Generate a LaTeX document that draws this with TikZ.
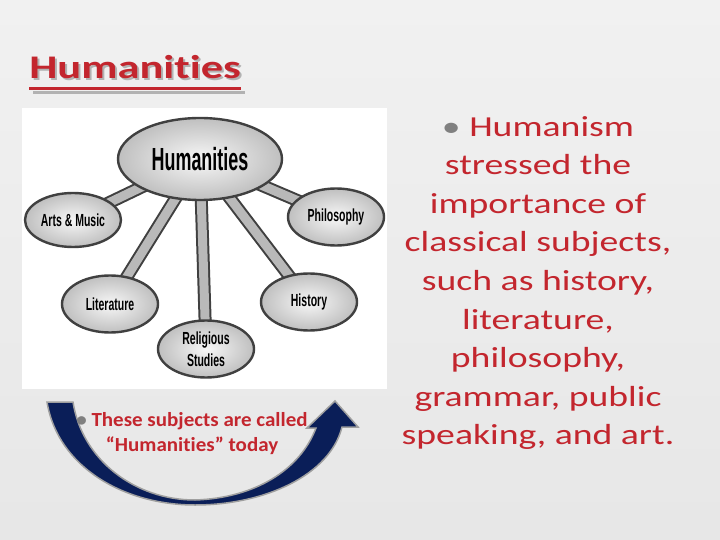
\documentclass[tikz,border=0pt]{standalone}
\usepackage{fontspec}
\setmainfont{Carlito}[Ligatures={NoCommon}]
\newfontfamily\diagfont{Liberation Sans}
\usetikzlibrary{shapes.geometric,backgrounds}
\definecolor{slidered}{RGB}{195,38,46}
\definecolor{arrownavy}{RGB}{10,30,88}
\newcommand{\narrowtext}[1]{\scalebox{0.6}[1]{#1}}
\begin{document}
\begin{tikzpicture}
	[	x=1pt,y=-1pt,
	topic/.style={ellipse,draw=black!75,line width=2.4pt,inner sep=0pt,
		inner color=gray!6,outer color=gray!50,minimum width=96pt,minimum height=57pt,
		font=\diagfont\bfseries\fontsize{17.5}{22}\selectfont,align=center},
	stem/.style={draw=black!75,line width=2pt,double=gray!55,double distance=9pt},
	redtext/.style={text=slidered,inner sep=0pt,align=center}
	]
	\useasboundingbox (0,0) rectangle (720,540);
\begin{pgfonlayer}{background}
	\shade[top color=gray!11,bottom color=gray!19] (0,0) rectangle (720,540);
	\fill[white] (22,108) rectangle (387,389);
\end{pgfonlayer}

% title with its shadow
\node[redtext,text=gray!60,anchor=base west,font=\bfseries\fontsize{33}{33}\selectfont,xscale=1.35] (titleshadow) at (31,81){Humanities};
\draw[gray!60,line width=3pt] ([shift={(2pt,-12pt)}]titleshadow.base west) -- ([shift={(2pt,-12pt)}]titleshadow.base east);
\node[redtext,anchor=base west,font=\bfseries\fontsize{33}{33}\selectfont,xscale=1.35] (title) at (29,79){Humanities};
\draw[slidered,line width=3pt] ([yshift=-10pt]title.base west) -- ([yshift=-10pt]title.base east);

% the diagram
	\node[topic,minimum width=164pt,minimum height=82pt,font=\diagfont\bfseries\fontsize{32}{32}\selectfont] (hum) at (200,159){\scalebox{0.56}[1]{Humanities}};
	\node[topic,minimum height=54pt] (arts) at (73,220){\narrowtext{Arts \& Music}};
	\node[topic] (phil) at (336,217){\narrowtext{Philosophy}};
	\node[topic] (lit) at (110,304){\narrowtext{Literature}};
	\node[topic] (hist) at (309,302){\narrowtext{History}};
	\node[topic] (rel) at (206,349){\narrowtext{Religious}\\\narrowtext{Studies}};
\begin{pgfonlayer}{background}
	\foreach \sub in {arts,phil,lit,hist,rel}
		\draw[stem] (hum.center) -- (\sub.center);
\end{pgfonlayer}

% curved arrow
	\fill[arrownavy,draw=gray!75,line width=1.5pt] (47,402) .. controls (58,468) and (125,505) .. (195,505) .. controls (265,505) and (330,475) .. (342,427) -- (358,427) -- (335,401) -- (307,428) -- (316,428) .. controls (300,470) and (255,498) .. (195,500) .. controls (135,500) and (82,460) .. (73,402) -- cycle;
	\node[redtext,font=\bfseries\fontsize{20}{25}\selectfont,xscale=1.05] (called) at (192,434){{\color{gray}\textbullet} These subjects are called\\“Humanities” today};

% right hand text
	\node[redtext,font=\fontsize{29}{38.6}\selectfont,xscale=1.3] (humanism) at (538,283){{\color{gray}\textbullet}~Humanism\\stressed the\\importance of\\classical subjects,\\such as history,\\literature,\\philosophy,\\grammar, public\\speaking, and art.};
\end{tikzpicture}
\end{document}
